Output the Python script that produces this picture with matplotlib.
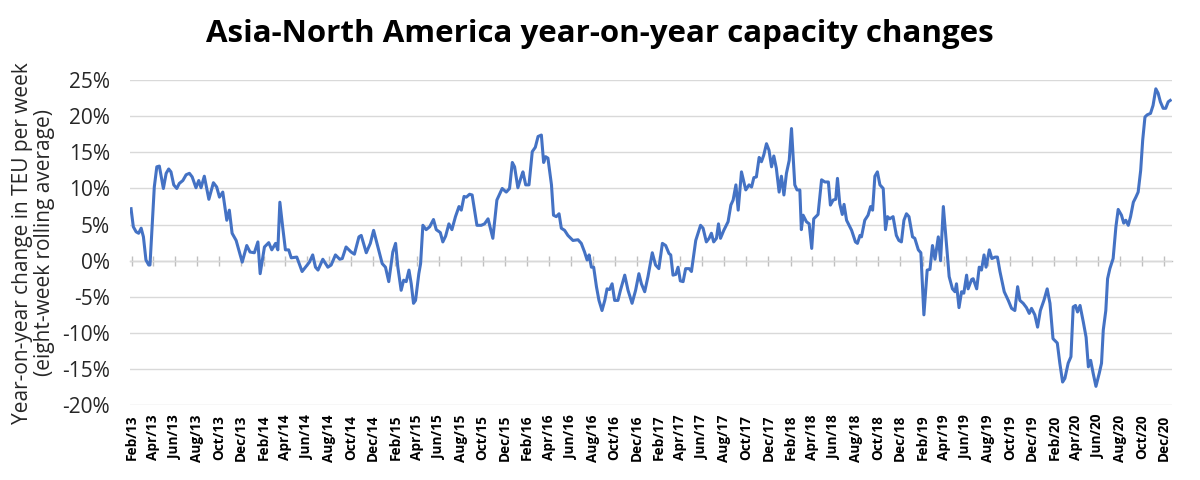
import numpy as np
import pandas as pd
import matplotlib
matplotlib.use("Agg")
import matplotlib.pyplot as plt
import matplotlib.dates as mdates
from matplotlib.ticker import FuncFormatter

plt.rcParams['font.family'] = ['Open Sans', 'DejaVu Sans']

# weeks since the first reading (late Jan 2013) and the rolling yoy change, %
start = pd.Timestamp("2013-01-30")
weeks = [
    0, 0.9, 2, 3, 4, 4.9, 5.9, 7, 7.5, 9.2, 10.2, 11.2, 12.8, 13.9, 14.9, 15.8,
    16.9, 18.1, 19.1, 20.5, 21.8, 23.1, 24.2, 25.7, 26.8, 27.7, 29, 30.8, 32.6,
    33.9, 35, 36.3, 37.9, 38.9, 40, 41.6, 44, 45.8, 47.1, 48.8, 50.2, 51.1,
    52.8, 54.5, 55.7, 57.2, 58.1, 58.9, 60, 61.1, 62.4, 63.4, 65.6,
    67.7, 70.6, 71.9, 73, 74, 75.9, 77.9, 79.2, 80.9, 82.6, 83.6, 85.1, 87.1,
    88.4, 90.2, 91.1, 93.1, 94.7, 96, 97.7, 99.4, 100.7, 102, 103.6, 104.7,
    105.6, 106.9, 107.9, 108.9, 110, 110.9, 111.8, 112.6, 113.9, 114.6, 115.5,
    116.8, 118.2, 119.7, 120.8, 122.4, 123.4, 124.5, 125.8, 127, 128.4, 129.8,
    130.7, 131.8,
    132.7, 134, 135, 136.9, 138.6, 139.9, 141.3, 143.2, 144.8, 146.9, 148.5,
    149.8, 150.9, 151.8, 153.1, 154.5, 155.1, 156.2, 157.5, 158.8, 160, 161.1,
    162.4, 163.3, 164.1, 165, 166.4, 167.2, 168.3, 169.4, 170.3, 171.6, 172.9,
    174.9, 176.9, 178.2, 179.5, 180.5, 181.3, 182.2, 183.1, 184.2, 185.2,
    186.4, 187.5, 188.4, 189.4, 190.4, 191.4, 192.7, 193.7, 195.4, 196.7,
    198.3, 199.7,
    201, 202, 203.3, 204.6, 206.3, 207.6, 208.9, 210.3, 211.6, 212.9, 213.6,
    214.5, 215.6, 216.5, 217.4, 218.5, 219.5, 220.9, 221.8, 223.5, 225.4,
    226.4, 227.7, 228.8, 229.7, 230.6, 231.7, 232.5, 233.3, 234.6, 236.3,
    237.4, 238.3, 239.4, 240.3, 241.6, 243.3, 244.6, 245.6, 246.5, 247.5,
    248.6, 249.5, 250.4, 251.5, 252.5, 253.5, 254.4, 255.4, 256.5, 257.4,
    258.4, 259.4, 260.5, 261.4, 262.7, 263.6, 264.7, 265.3, 266,
    267.3, 268.4, 269.4, 270.2, 271.9, 273.3, 274.6, 276, 276.8, 277.9, 278.9,
    279.6, 280.5, 281.5, 282.2, 283.2, 285.2, 286.7, 287.5, 288.5, 289.1,
    290.4, 291.7, 292.7, 293.5, 294.4, 295.4, 296.4, 297.7, 298.6, 299.4,
    300.3, 301.6, 302.9, 303.9, 304.9, 305.9, 306.9, 307.9, 309.3, 310.2,
    311.6, 312.6, 313.8, 315.1, 316.2, 317.2, 318.2, 319.5, 320.4, 321.5,
    322.6, 323.8, 325.1, 326.1, 326.7, 327.7, 328.7, 329.6, 330.7, 331.3,
    332.7, 333.3,
    334.7, 335.7, 336.6, 337.6, 338.4, 339.7, 340.7, 342, 342.9, 343.9, 345.6,
    347.2, 348.5, 349.8, 350.9, 351.8, 353.1, 354.4, 355.5, 356.4, 357.7,
    358.8, 359.9, 361.3, 362.6, 363.7, 364.9, 366.6, 367.6, 368.7, 369.6,
    370.9, 372, 372.9, 373.8, 374.6, 375.6, 376.9, 378, 378.9, 379.8, 380.8,
    381.9, 383.2, 384.1, 384.8, 385.8, 386.5, 387.4, 388.7, 389.8, 390.7, 392,
    392.9, 393.7, 394.7, 395.6, 396.7, 397.7, 398.6, 399.6, 400.4, 401.3,
    402.2, 403.5, 404.5, 405.6, 406.5, 407.4, 408.5, 409.5, 410.5, 411.3,
]
change = [
    7.2, 4.7, 4.0, 3.8, 4.5, 3.3, 0.1, -0.6, -0.6, 10.2, 13.0, 13.1, 10.0, 12.1,
    12.7, 12.3, 10.5, 10.0, 10.7, 11.1, 11.9, 12.1, 11.6, 10.1, 11.1, 10.1,
    11.7, 8.5, 10.8, 10.2, 8.8, 9.5, 5.6, 7.0, 3.8, 2.8, -0.2, 2.1, 1.2, 1.1,
    2.6, -1.8, 1.9, 2.5, 1.5, 2.4, 1.5, 8.1, 4.7, 1.5, 1.5, 0.4, 0.5,
    -1.5, -0.2, 0.8, -0.9, -1.3, 0.2, -0.9, -0.6, 0.8, 0.2, 0.3, 1.9, 1.2,
    0.9, 3.3, 3.5, 1.1, 2.4, 4.2, 1.9, -0.4, -0.9, -2.9, 1.2, 2.4,
    -0.9, -4.1, -2.7, -2.9, -1.3, -3.2, -5.9, -5.5, -1.8, -0.4, 4.9,
    4.3, 4.7, 5.7, 4.3, 3.9, 2.6, 3.4, 5.1, 4.3, 6.1, 7.5,
    7.0, 8.9,
    8.8, 9.2, 9.1, 4.9, 4.9, 5.1, 5.8, 3.1, 8.4, 10.0, 9.5,
    10.0, 13.6, 13.0, 10.1, 11.7, 12.3, 10.5, 10.5, 15.1, 15.7, 17.2,
    17.4, 13.6, 14.4, 14.2, 10.5, 6.3, 6.1, 6.5, 4.5, 4.2, 3.5,
    2.8, 2.9, 2.4, 1.2, 0.1, 0.8, -0.9, -0.9, -3.6, -5.5,
    -6.9, -5.5, -3.9, -4.0, -3.2, -5.5, -5.5, -4.1, -2.0, -4.1,
    -5.9, -4.1,
    -1.8, -3.2, -4.3, -2.2, 1.1, -0.6, -1.1, 2.4, 2.1, 1.0, 0.8,
    -2.0, -1.9, -0.9, -2.8, -2.9, -1.1, -1.1, -1.5, 2.8, 4.9,
    4.5, 2.6, 3.1, 3.8, 2.6, 3.1, 5.1, 3.1, 4.2, 5.4,
    7.7, 8.4, 10.5, 7.0, 12.3, 9.8, 10.5, 10.2, 11.5, 11.6,
    14.3, 13.7, 14.6, 16.2, 15.3, 13.0, 14.5, 12.8, 9.5, 11.7,
    9.1, 12.1, 13.9, 18.3, 10.5, 9.8, 9.8, 4.3, 6.3,
    5.4, 5.1, 1.7, 5.8, 6.4, 11.2, 10.9, 10.9, 7.7, 8.4, 8.5,
    11.4, 7.9, 6.4, 7.8, 5.6, 4.2, 2.6, 2.4, 3.5, 3.3,
    5.6, 6.3, 7.5, 7.0, 11.7, 12.3, 10.5, 10.0, 4.3, 6.1,
    5.8, 6.1, 3.5, 2.8, 2.6, 5.6, 6.5, 6.1, 3.3, 3.1,
    1.5, 1.1, -7.5, -1.3, -1.2, 2.1, 0.2, 3.3, 0.0, 7.5,
    2.8, -2.2, -3.9, -4.3, -3.2, -6.5, -4.3, -4.5, -2.0, -3.9,
    -2.6, -2.5,
    -3.9, -0.9, -1.3, 0.8, -0.9, 1.5, 0.3, 0.5, 0.5, -1.5, -4.3,
    -5.5, -6.6, -6.9, -3.6, -5.5, -5.9, -6.5, -7.3, -6.6, -7.5,
    -9.2, -6.9, -5.5, -3.9, -5.9, -10.8, -11.4, -14.2, -16.8, -16.3,
    -14.2, -13.3, -6.4, -6.2, -7.1, -6.2, -8.5, -10.6, -14.7, -13.8, -15.6,
    -17.4, -15.6, -14.2, -9.6, -6.9, -2.5, -1.1, 0.3, 4.7, 7.1, 6.3,
    5.2, 5.6, 4.9, 6.1, 8.1, 8.8, 9.5, 12.5, 16.7, 19.9,
    20.2, 20.4, 21.5, 23.8, 23.2, 22.0, 21.1, 21.1, 22.0, 22.2,
]

y_ticks = [-20, -15, -10, -5, 0, 5, 10, 15, 20, 25]
label_months = [2, 4, 6, 8, 10, 12]

dates = start + pd.to_timedelta(np.array(weeks) * 7, unit="D")

fig = plt.figure(figsize=(12, 4.8), dpi=100)
ax = fig.add_axes([0.108, 0.156, 0.869, 0.677])

ax.plot(dates, change, color="#4472C4", linewidth=2.2, solid_joinstyle="round")

ax.set_ylim(y_ticks[0], y_ticks[-1])
ax.set_yticks(y_ticks)
ax.yaxis.set_major_formatter(FuncFormatter(lambda v, p: f"{v:.0f}%"))
ax.grid(axis="y", color="#d9d9d9", linewidth=1)
ax.set_axisbelow(True)
for s in ax.spines.values():
    s.set_visible(False)

ax.set_xlim(start - pd.Timedelta(days=4), dates[-1] + pd.Timedelta(days=6))
ax.xaxis.set_major_locator(mdates.MonthLocator(bymonth=label_months))
ax.xaxis.set_major_formatter(mdates.DateFormatter("%b/%y"))
ax.tick_params(axis="x", length=0, pad=7, labelsize=9.8, rotation=90)
ax.tick_params(axis="y", length=0, pad=14, labelsize=15, colors="#262626")
for lbl in ax.get_xticklabels():
    lbl.set_fontweight("bold")

# category axis crossing at 0%
zero_pos = (0 - y_ticks[0]) / (y_ticks[-1] - y_ticks[0])
zax = ax.secondary_xaxis(zero_pos)
zax.xaxis.set_major_locator(mdates.MonthLocator(bymonth=label_months))
zax.tick_params(axis="x", direction="inout", length=7, width=1,
                color="#bfbfbf", labelbottom=False)
zax.spines["bottom"].set_color("#bfbfbf")
zax.spines["bottom"].set_linewidth(1)
zax.set_zorder(0)

ax.set_ylabel("Year-on-year change in TEU per week\n(eight-week rolling average)",
              fontsize=15, color="#262626", linespacing=1.1, labelpad=5)

fig.suptitle("Asia-North America year-on-year capacity changes",
             fontsize=22.5, fontweight="bold", y=0.96)

fig.savefig("out.png", dpi=100)
